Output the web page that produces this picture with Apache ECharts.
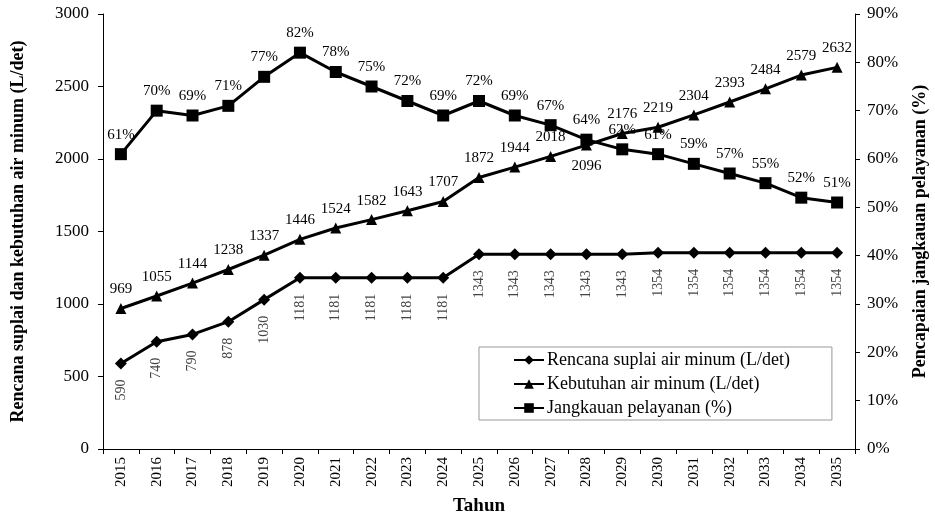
<!DOCTYPE html>
<html>
<head>
<meta charset="utf-8">
<script src="https://cdn.jsdelivr.net/npm/echarts@6/dist/echarts.min.js"></script>
<style>
  html, body { margin: 0; padding: 0; background: #fff; }
  #main { width: 935px; height: 516px; }
</style>
</head>
<body>
<div id="main"></div>
<script>
var years = ['2015','2016','2017','2018','2019','2020','2021','2022','2023','2024','2025',
             '2026','2027','2028','2029','2030','2031','2032','2033','2034','2035'];
var suplai = [590, 740, 790, 878, 1030, 1181, 1181, 1181, 1181, 1181, 1343,
              1343, 1343, 1343, 1343, 1354, 1354, 1354, 1354, 1354, 1354];
var kebutuhan = [969, 1055, 1144, 1238, 1337, 1446, 1524, 1582, 1643, 1707, 1872,
                 1944, 2018, 2096, 2176, 2219, 2304, 2393, 2484, 2579, 2632];
var jangkauan = [61, 70, 69, 71, 77, 82, 78, 75, 72, 69, 72,
                 69, 67, 64, 62, 61, 59, 57, 55, 52, 51];
var names = ['Rencana suplai air minum (L/det)', 'Kebutuhan air minum (L/det)', 'Jangkauan pelayanan (%)'];

var font = 'Liberation Serif';
var myChart = echarts.init(document.getElementById('main'));

// label of 2028 demand sits under the point
var kebutuhanData = kebutuhan.map(function (v, i) {
    if (years[i] === '2028') return { value: v, label: { position: 'bottom', distance: 8 } };
    return v;
});

var option = {
    animation: false,
    textStyle: { fontFamily: font, color: '#000' },
    grid: { left: 103, right: 80, top: 14, bottom: 67, outerBoundsMode: 'none' },
    legend: {
        orient: 'vertical',
        left: 479,
        top: 347,
        padding: [4, 42, 3, 34],
        itemGap: 6,
        itemWidth: 30,
        itemHeight: 12,
        borderColor: '#999',
        borderWidth: 1,
        textStyle: { fontFamily: font, fontSize: 18, color: '#000', padding: [0, 0, 0, -2] },
        data: names
    },
    xAxis: {
        type: 'category',
        data: years,
        name: 'Tahun',
        nameLocation: 'middle',
        nameGap: 48,
        nameTextStyle: { fontFamily: font, fontSize: 19, fontWeight: 'bold', color: '#000' },
        axisLine: { lineStyle: { color: '#000' } },
        axisTick: { show: true, length: 5, lineStyle: { color: '#000' } },
        axisLabel: { rotate: 90, fontSize: 15, color: '#000', fontFamily: font, margin: 8 }
    },
    yAxis: [
        {
            type: 'value',
            min: 0, max: 3000, interval: 500,
            name: 'Rencana suplai dan kebutuhan air minum (L/det)',
            nameLocation: 'middle',
            nameGap: 76,
            nameTextStyle: { fontFamily: font, fontSize: 18, fontWeight: 'bold', color: '#000' },
            axisLine: { show: true, lineStyle: { color: '#000' } },
            axisTick: { show: true, length: 5, lineStyle: { color: '#000' } },
            axisLabel: { fontSize: 17, color: '#000', fontFamily: font, margin: 14, formatter: function (v) { return String(v); } },
            splitLine: { show: false }
        },
        {
            type: 'value',
            min: 0, max: 90, interval: 10,
            name: 'Pencapaian jangkauan pelayanan (%)',
            nameLocation: 'middle',
            nameGap: 56,
            nameRotate: 90,
            nameTextStyle: { fontFamily: font, fontSize: 18, fontWeight: 'bold', color: '#000' },
            axisLine: { show: true, lineStyle: { color: '#000' } },
            axisTick: { show: true, length: 5, lineStyle: { color: '#000' } },
            axisLabel: { fontSize: 17, color: '#000', fontFamily: font, margin: 12, formatter: '{value}%' },
            splitLine: { show: false }
        }
    ],
    series: [
        {
            name: names[0],
            type: 'line',
            yAxisIndex: 0,
            data: suplai,
            symbol: 'diamond',
            symbolSize: 12,
            itemStyle: { color: '#000' },
            lineStyle: { color: '#000', width: 3 },
            label: {
                show: true,
                position: 'bottom',
                distance: 10,
                rotate: 90,
                align: 'right',
                verticalAlign: 'middle',
                fontFamily: font,
                fontSize: 14,
                color: '#444'
            }
        },
        {
            name: names[1],
            type: 'line',
            yAxisIndex: 0,
            data: kebutuhanData,
            symbol: 'triangle',
            symbolSize: 11,
            itemStyle: { color: '#000' },
            lineStyle: { color: '#000', width: 3 },
            label: { show: true, position: 'top', distance: 6, fontFamily: font, fontSize: 15, color: '#000' }
        },
        {
            name: names[2],
            type: 'line',
            yAxisIndex: 1,
            data: jangkauan,
            symbol: 'rect',
            symbolSize: 12,
            itemStyle: { color: '#000' },
            lineStyle: { color: '#000', width: 3 },
            label: { show: true, position: 'top', distance: 6, fontFamily: font, fontSize: 15, color: '#000', formatter: '{c}%' }
        }
    ]
};

myChart.setOption(option);
</script>
</body>
</html>
